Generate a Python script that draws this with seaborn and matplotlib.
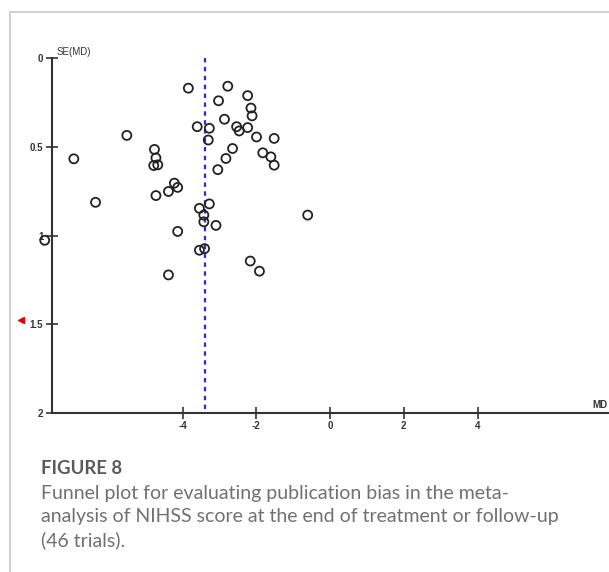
import matplotlib
matplotlib.use('Agg')
import matplotlib.pyplot as plt
import seaborn as sns
import pandas as pd
from matplotlib.lines import Line2D

# Funnel plot data: mean difference (MD) and its standard error
md = [-3.85, -2.78, -3.03, -2.24, -2.15, -2.12, -2.87, -3.61, -3.28, -2.54,
      -2.47, -2.24, -3.31, -2.00, -1.52, -2.65, -2.83, -1.83, -1.61, -1.52,
      -3.05, -5.52, -6.96, -6.37, -4.77, -4.73, -4.79, -4.68, -4.23, -4.14,
      -4.39, -4.73, -3.55, -3.28, -3.43, -3.43, -3.10, -0.61, -4.14, -7.75,
      -3.55, -3.41, -2.17, -1.92, -4.39]
se = [0.170, 0.159, 0.241, 0.212, 0.282, 0.326, 0.345, 0.387, 0.396, 0.387,
      0.411, 0.392, 0.462, 0.445, 0.453, 0.510, 0.566, 0.534, 0.557, 0.604,
      0.629, 0.436, 0.568, 0.813, 0.515, 0.563, 0.606, 0.602, 0.705, 0.729,
      0.752, 0.775, 0.847, 0.822, 0.885, 0.923, 0.943, 0.885, 0.977, 1.027,
      1.083, 1.074, 1.144, 1.201, 1.222]
pooled_md = -3.39
# study outside the plotted range (shown as an arrow)
offscale_md, offscale_se = -8.39, 1.476

x_ticks = [-4, -2, 0, 2, 4]
y_ticks = [0, 0.5, 1, 1.5, 2]
y_tick_labels = ['0', '0.5', '1', '1.5', '2']

df = pd.DataFrame({'MD': md, 'SE': se})

sns.set_style('white')
plt.rcParams['font.family'] = ['Liberation Sans', 'DejaVu Sans']

fig = plt.figure(figsize=(6.09, 5.72), dpi=100)
ax = fig.add_axes([51.7 / 609, 1 - 413 / 572, 1 - 51.7 / 609, (413 - 58) / 572])

sns.scatterplot(data=df, x='MD', y='SE', ax=ax, s=42, marker='o',
                facecolor='none', edgecolor='#222222', linewidth=1.3,
                clip_on=False, zorder=3)

# pooled estimate
ax.plot([pooled_md, pooled_md], [0, 2], color='#2b2bd9', lw=1.6,
        linestyle=(0, (2, 2)), zorder=2)

# off-scale marker
ax.plot([offscale_md], [offscale_se], marker='<', color='#e00000',
        markersize=5, clip_on=False, linestyle='none')

ax.set_xlim(-7.56, 7.57)
ax.set_ylim(2, 0)
ax.set_xticks(x_ticks)
ax.set_xticklabels([str(t) for t in x_ticks])
ax.set_yticks(y_ticks)
ax.set_yticklabels(y_tick_labels)
ax.tick_params(axis='both', bottom=True, left=True, direction='inout',
               length=8, width=1.2, colors='#333333', labelsize=7, pad=2)
for lab in ax.get_xticklabels() + ax.get_yticklabels():
    lab.set_fontweight('bold')
ax.set_xlabel('')
ax.set_ylabel('')

for side in ['top', 'right']:
    ax.spines[side].set_visible(False)
for side in ['left', 'bottom']:
    ax.spines[side].set_color('#333333')
    ax.spines[side].set_linewidth(1.5)

fig.text(57 / 609, 1 - 52 / 572, 'SE(MD)', fontsize=7, color='#333333',
         ha='left', va='center')
fig.text(592 / 609, 1 - 405 / 572, 'MD', fontsize=7, color='#333333',
         ha='left', va='center', fontweight='bold')

# frame lines on the left and top of the figure panel
fig.add_artist(Line2D([9.5 / 609, 9.5 / 609], [0, 1 - 12 / 572],
                      color='#c8c8c8', lw=1.2))
fig.add_artist(Line2D([9.5 / 609, 1], [1 - 12 / 572, 1 - 12 / 572],
                      color='#c8c8c8', lw=1.2))

# caption
cap_font = ['Lato', 'DejaVu Sans']
fig.text(41 / 609, 1 - 468 / 572, 'FIGURE 8', fontsize=13.3, fontweight='bold',
         color='#5a5a5a', family=cap_font, ha='left', va='center')
caption = ['Funnel plot for evaluating publication bias in the meta-',
           'analysis of NIHSS score at the end of treatment or follow-up',
           '(46 trials).']
for i, line in enumerate(caption):
    fig.text(41 / 609, 1 - (493 + 23.5 * i) / 572, line, fontsize=14,
             color='#707070', family=cap_font, ha='left', va='center')

fig.savefig('out.png', dpi=100)
